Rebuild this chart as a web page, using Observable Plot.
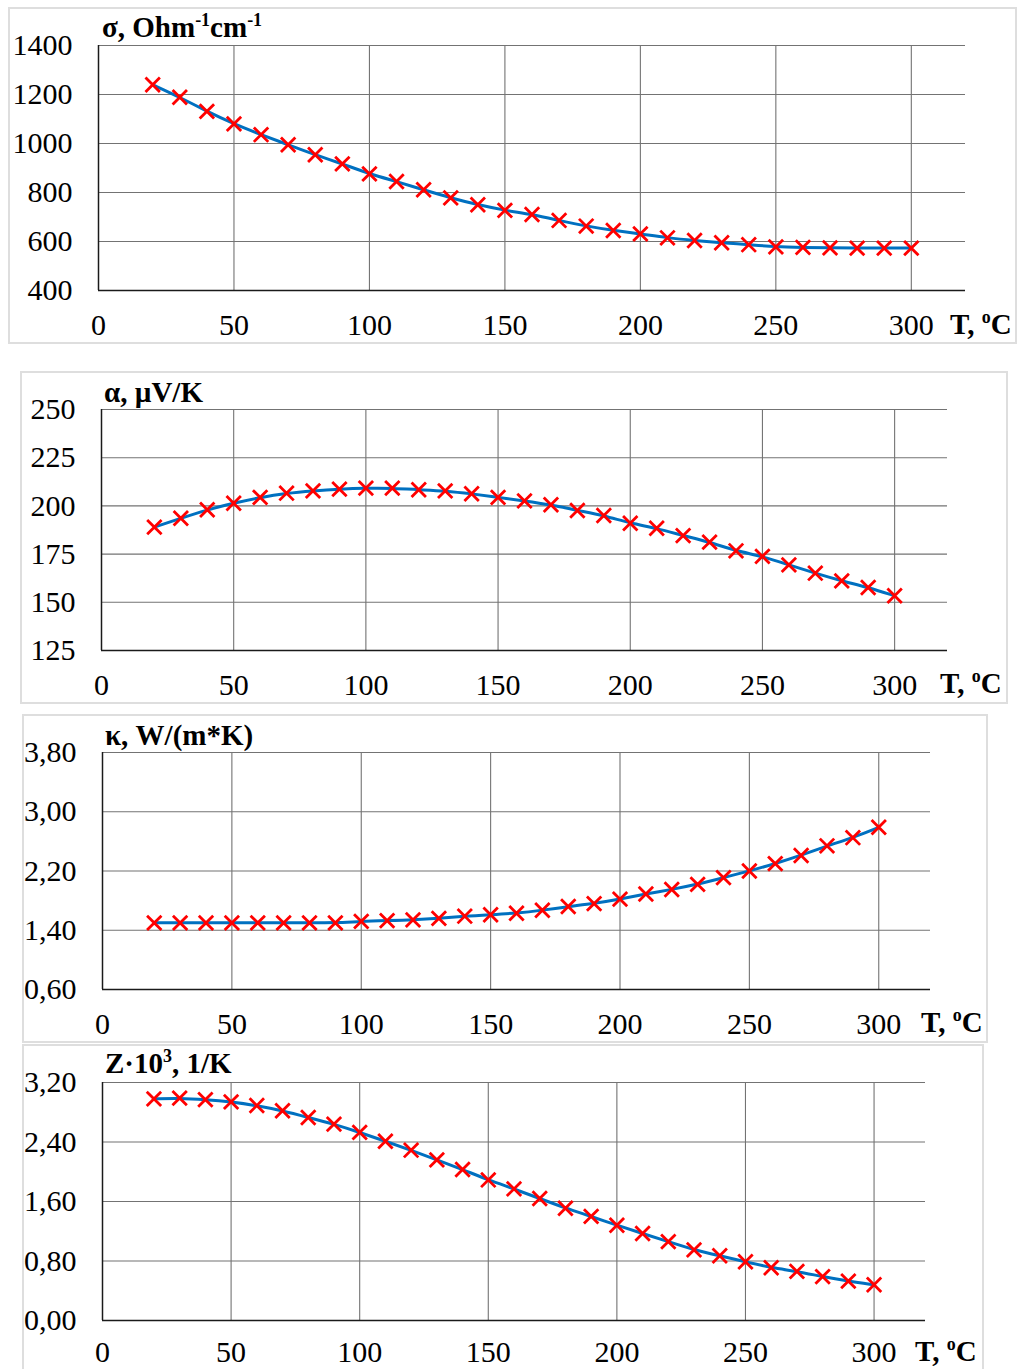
<!DOCTYPE html>
<html><head><meta charset="utf-8">
<script src="https://cdn.jsdelivr.net/npm/d3@7"></script>
<script src="https://cdn.jsdelivr.net/npm/@observablehq/plot@0.6"></script>
<style>
html,body{margin:0;padding:0;background:#fff;}
#page{position:relative;width:1021px;height:1369px;overflow:hidden;background:#fff;}
.panel{position:absolute;}
.panel svg{display:block;outline:2px solid #dedede;outline-offset:-1px;}
</style></head>
<body><div id="page"></div>
<script>
// ---- data ----
const temperature = [20,30,40,50,60,70,80,90,100,110,120,130,140,150,160,170,180,190,200,210,220,230,240,250,260,270,280,290,300];
const sigma = [1240,1189,1131,1080,1036,995,954,917,876,845,811,778,750,727,710,686,663,645,631,615,604,595,587,578,576,574,573,573,573];
const alpha = [189.0,193.6,198.0,201.4,204.4,206.6,207.8,208.7,209.2,209.2,208.4,207.8,206.3,204.4,202.6,200.6,197.6,195.0,191.0,188.4,184.6,181.2,176.7,173.8,169.4,165.1,161.1,157.7,153.4];
const kappa = [1.50,1.50,1.50,1.50,1.50,1.50,1.50,1.50,1.52,1.53,1.54,1.56,1.59,1.61,1.63,1.67,1.72,1.76,1.82,1.89,1.95,2.02,2.11,2.20,2.30,2.41,2.54,2.65,2.79];
const zt = [2.98,2.99,2.97,2.94,2.89,2.82,2.73,2.64,2.53,2.41,2.29,2.16,2.03,1.89,1.77,1.64,1.51,1.40,1.28,1.17,1.06,0.95,0.87,0.79,0.71,0.66,0.59,0.53,0.48];

const xTicks = [0,50,100,150,200,250,300];
const sigmaTicks = [400,600,800,1000,1200,1400];
const alphaTicks = [125,150,175,200,225,250];
const kappaTicks = [0.6,1.4,2.2,3.0,3.8];
const zTicks = [0,0.8,1.6,2.4,3.2];

const sigmaTitle = [["σ, Ohm"],["-1",1],["cm"],["-1",1]];
const alphaTitle = [["α, µV/K"]];
const kappaTitle = [["κ, W/(m*K)"]];
const zTitle = [["Z·10"],["3",1],[", 1/K"]];
const xTitle = [["T, "],["o",1],["C"]];

// ---- layout ----
const comma = d => d.toFixed(2).replace(".", ",");
const panels = [
  {values: sigma, ticks: sigmaTicks, title: sigmaTitle, fmt: d => String(d), pad: 23,
   box: [9, 8, 1007, 335], m: [37, 51, 53, 89], titlePos: [93, 29], xlabPos: [941, 326]},
  {values: alpha, ticks: alphaTicks, title: alphaTitle, fmt: d => String(d), pad: 23,
   box: [21, 372, 986, 331], m: [37, 60, 53, 80], titlePos: [83, 30], xlabPos: [919, 321]},
  {values: kappa, ticks: kappaTicks, title: kappaTitle, fmt: comma, pad: 23,
   box: [23, 715, 964, 327], m: [37, 57, 53, 79], titlePos: [82, 30], xlabPos: [898, 317]},
  {values: zt, ticks: zTicks, title: zTitle, fmt: comma, pad: 20,
   box: [23, 1045, 960, 330], m: [37, 58, 55, 79], titlePos: [82, 28], xlabPos: [892, 316]}
];

const page = document.getElementById("page");
const font = "'Liberation Serif', 'Times New Roman', serif";

function addText(svg, parts, x, y, size) {
  const t = d3.select(svg).append("text")
    .attr("x", x).attr("y", y)
    .attr("text-anchor", "start")
    .attr("font-family", font).attr("font-weight", "bold")
    .attr("font-size", size).attr("fill", "#000");
  let raised = false;
  for (const [s, sup] of parts) {
    const sp = t.append("tspan").text(s);
    if (sup && !raised) { sp.attr("dy", -11).attr("font-size", size * 0.62); raised = true; }
    else if (sup) { sp.attr("font-size", size * 0.62); }
    else if (raised) { sp.attr("dy", 11); raised = false; }
  }
}

for (const p of panels) {
  const data = temperature.map((t, i) => ({t, v: p.values[i]}));
  const [L, T, W, H] = p.box;
  const [mt, mr, mb, ml] = p.m;
  const ymin = p.ticks[0], ymax = p.ticks[p.ticks.length - 1];
  const svg = Plot.plot({
    width: W, height: H,
    marginTop: mt, marginRight: mr, marginBottom: mb, marginLeft: ml,
    style: {fontFamily: font, fontSize: "30px", color: "#000", background: "#fff", overflow: "visible"},
    x: {domain: [0, 320]},
    y: {domain: [ymin, ymax]},
    marks: [
      Plot.gridX(xTicks.slice(1), {stroke: "#737373", strokeOpacity: 1, strokeWidth: 1.1}),
      Plot.gridY(p.ticks, {stroke: "#737373", strokeOpacity: 1, strokeWidth: 1.1}),
      Plot.axisX(xTicks, {tickSize: 0, tickPadding: p.pad, label: null, fontSize: 30}),
      Plot.axisY(p.ticks, {tickSize: 0, tickPadding: 26, tickFormat: p.fmt, label: null, fontSize: 30}),
      Plot.ruleX([0], {stroke: "#1a1a1a", strokeWidth: 1.5}),
      Plot.ruleY([ymin], {stroke: "#1a1a1a", strokeWidth: 1.5}),
      Plot.line(data, {x: "t", y: "v", curve: "basis", stroke: "#0070C0", strokeWidth: 3}),
      Plot.dot(data, {x: "t", y: "v", symbol: "times", r: 6.6, stroke: "#ff0000", strokeWidth: 2.8})
    ]
  });
  addText(svg, p.title, p.titlePos[0], p.titlePos[1], 29);
  addText(svg, xTitle, p.xlabPos[0], p.xlabPos[1], 29);
  const div = document.createElement("div");
  div.className = "panel";
  div.style.left = L + "px";
  div.style.top = T + "px";
  div.appendChild(svg);
  page.appendChild(div);
}
</script>
</body></html>
